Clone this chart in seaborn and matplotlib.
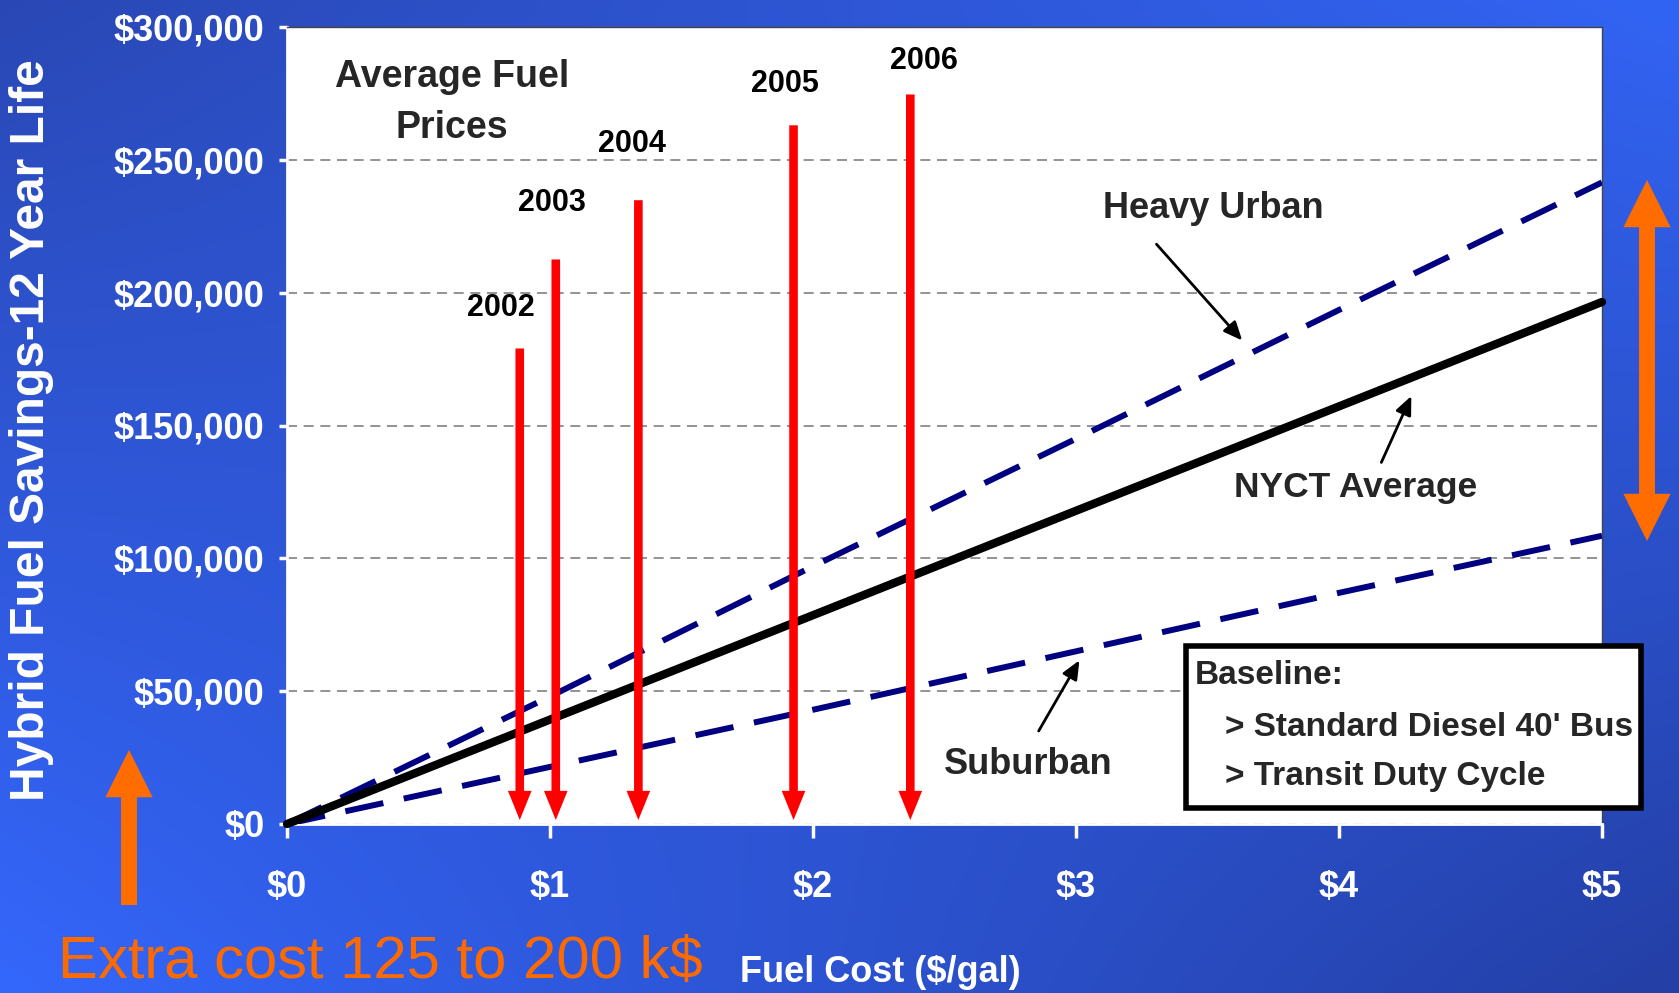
import numpy as np
import pandas as pd
import matplotlib
matplotlib.use("Agg")
import matplotlib.pyplot as plt
from matplotlib.patches import FancyArrowPatch, Rectangle
import seaborn as sns

# ---------------- data ----------------
fuel_cost = [0, 1, 2, 3, 4, 5]
heavy_urban = [0, 48000, 97000, 145000, 193500, 241500]
nyct_average = [0, 39300, 78600, 117900, 157200, 196500]
suburban = [0, 21500, 43000, 65000, 87000, 108500]

years = ["2002", "2003", "2004", "2005", "2006"]
year_price = [0.885, 1.022, 1.336, 1.926, 2.370]
year_arrow_top = [179000, 212500, 234800, 263000, 274600]

y_ticks = [0, 50000, 100000, 150000, 200000, 250000, 300000]
y_ticklabels = ["$0", "$50,000", "$100,000", "$150,000", "$200,000", "$250,000", "$300,000"]
x_ticks = [0, 1, 2, 3, 4, 5]
x_ticklabels = ["$0", "$1", "$2", "$3", "$4", "$5"]

df = pd.DataFrame({"cost": fuel_cost, "heavy": heavy_urban,
                   "nyct": nyct_average, "sub": suburban})

# ---------------- style ----------------
sns.set_style("white")
plt.rcParams["font.family"] = ["Liberation Sans", "DejaVu Sans"]

W, H = 1679, 993
fig = plt.figure(figsize=(W / 100, H / 100), dpi=100)

# background gradient
bg = fig.add_axes([0, 0, 1, 1], zorder=-10)
def hx(c):
    return np.array([int(c[i:i + 2], 16) for i in (1, 3, 5)]) / 255.0
tl, tr, bl, br = hx("#2A48B5"), hx("#3264F4"), hx("#3467FC"), hx("#243FA5")
gy, gx = np.mgrid[0:1:200j, 0:1:340j]
img = (tl[None, None] * ((1 - gx) * (1 - gy))[..., None] + tr[None, None] * (gx * (1 - gy))[..., None]
       + bl[None, None] * ((1 - gx) * gy)[..., None] + br[None, None] * (gx * gy)[..., None])
bg.imshow(img, aspect="auto", extent=[0, 1, 0, 1], origin="upper")
bg.set_axis_off()

ax = fig.add_axes([287 / W, 1 - 824 / H, (1602 - 287) / W, (824 - 27) / H])
ax.set_facecolor("white")

navy = "#000080"
sns.lineplot(data=df, x="cost", y="heavy", ax=ax, color=navy, lw=4.3,
             linestyle=(0, (6.5, 3.5)), zorder=3)
sns.lineplot(data=df, x="cost", y="sub", ax=ax, color=navy, lw=4.3,
             linestyle=(0, (6.5, 3.5)), zorder=3)
sns.lineplot(data=df, x="cost", y="nyct", ax=ax, color="black", lw=6,
             solid_capstyle="round", zorder=4, clip_on=False)

ax.set_xlim(0, 5)
ax.set_ylim(0, 300000)
ax.set_xticks(x_ticks)
ax.set_xticklabels(x_ticklabels)
ax.set_yticks(y_ticks)
ax.set_yticklabels(y_ticklabels)
ax.set_xlabel("")
ax.set_ylabel("")

ax.yaxis.grid(True, color="#808080", lw=1.2, linestyle=(0, (6, 4)))
ax.xaxis.grid(False)
ax.set_axisbelow(True)

for s in ("left", "bottom"):
    ax.spines[s].set_color("white")
    ax.spines[s].set_linewidth(2)
for s in ("top", "right"):
    ax.spines[s].set_color("#444444")
    ax.spines[s].set_linewidth(1)

ax.tick_params(axis="y", colors="white", length=6, width=2.5, pad=10,
               labelsize=26, left=True, direction="out")
ax.tick_params(axis="x", colors="white", length=10, width=2.5, pad=23,
               labelsize=26, bottom=True, direction="out")
for lab in ax.get_xticklabels() + ax.get_yticklabels():
    lab.set_fontweight("bold")
    lab.set_color("white")

# red year arrows
label_offsets = [(-19, 40), (-4, 56), (-6, 56), (-9, 41), (14, 33)]
for yr, xp, top, off in zip(years, year_price, year_arrow_top, label_offsets):
    ax.annotate("", xy=(xp, 1500), xytext=(xp, top),
                arrowprops=dict(arrowstyle="simple,head_length=21,head_width=17,tail_width=6.2",
                                mutation_scale=1, color="#FF0000", lw=0,
                                shrinkA=0, shrinkB=0), zorder=5)
    ax.annotate(yr, xy=(xp, top), xytext=(off[0] * 0.72, off[1] * 0.72),
                textcoords="offset points", ha="center", va="center",
                fontsize=22, fontweight="bold", color="black", zorder=6)

ax.text(0.627, 271500, "Average Fuel\nPrices", ha="center", va="center",
        fontsize=27, fontweight="bold", linespacing=1.55, zorder=6)

# series annotations
arrow_kw = dict(arrowstyle="-|>,head_length=0.8,head_width=0.35", color="black",
                lw=2, mutation_scale=14, shrinkA=0, shrinkB=0)
ax.annotate("", xy=(3.632, 182000), xytext=(3.306, 218250), arrowprops=arrow_kw)
ax.text(3.522, 231500, "Heavy Urban", ha="center", va="center", fontsize=26,
        fontweight="bold")
ax.annotate("", xy=(4.275, 161100), xytext=(4.161, 136100), arrowprops=arrow_kw)
ax.text(4.064, 126500, "NYCT Average", ha="center", va="center", fontsize=25.5,
        fontweight="bold")
ax.annotate("", xy=(3.013, 61600), xytext=(2.858, 35000), arrowprops=arrow_kw)
ax.text(2.818, 22500, "Suburban", ha="center", va="center", fontsize=26,
        fontweight="bold")

# baseline box (figure coords)
bx0, bx1 = 1186 / W, 1641 / W
by0, by1 = 1 - 808 / H, 1 - 646 / H
fig.patches.append(Rectangle((bx0, by0), bx1 - bx0, by1 - by0, transform=fig.transFigure,
                             facecolor="white", edgecolor="black", lw=4, zorder=10))
fig.text(1195 / W, 1 - 676 / H, "Baseline:", fontsize=24, fontweight="bold",
         va="center", ha="left", zorder=11)
fig.text(1225 / W, 1 - 727 / H, "> Standard Diesel 40' Bus", fontsize=24,
         fontweight="bold", va="center", ha="left", zorder=11)
fig.text(1225 / W, 1 - 776 / H, "> Transit Duty Cycle", fontsize=24,
         fontweight="bold", va="center", ha="left", zorder=11)

# axis labels
fig.text(32 / W, 1 - 430 / H, "Hybrid Fuel Savings-12 Year Life", rotation=90,
         ha="center", va="center", fontsize=34.5, fontweight="bold", color="white")
fig.text(880 / W, 1 - 973 / H, "Fuel Cost ($/gal)", ha="center", va="center",
         fontsize=26, fontweight="bold", color="white")
fig.text(380 / W, 1 - 978 / H, "Extra cost 125 to 200 k$", ha="center", va="baseline",
         fontsize=43, color="#FF6A00")

# orange arrows (figure coords)
orange = "#FF6C00"
def fig_arrow(x0, y0, x1, y1):
    fig.patches.append(FancyArrowPatch(
        (x0 / W, 1 - y0 / H), (x1 / W, 1 - y1 / H), transform=fig.transFigure,
        arrowstyle="simple,head_length=34,head_width=34,tail_width=11.5",
        mutation_scale=1, color=orange, lw=0, shrinkA=0, shrinkB=0, zorder=9))
fig_arrow(129, 905, 129, 750)
fig_arrow(1647, 360, 1647, 180)
fig_arrow(1647, 360, 1647, 541)

fig.savefig("out.png", dpi=100)
